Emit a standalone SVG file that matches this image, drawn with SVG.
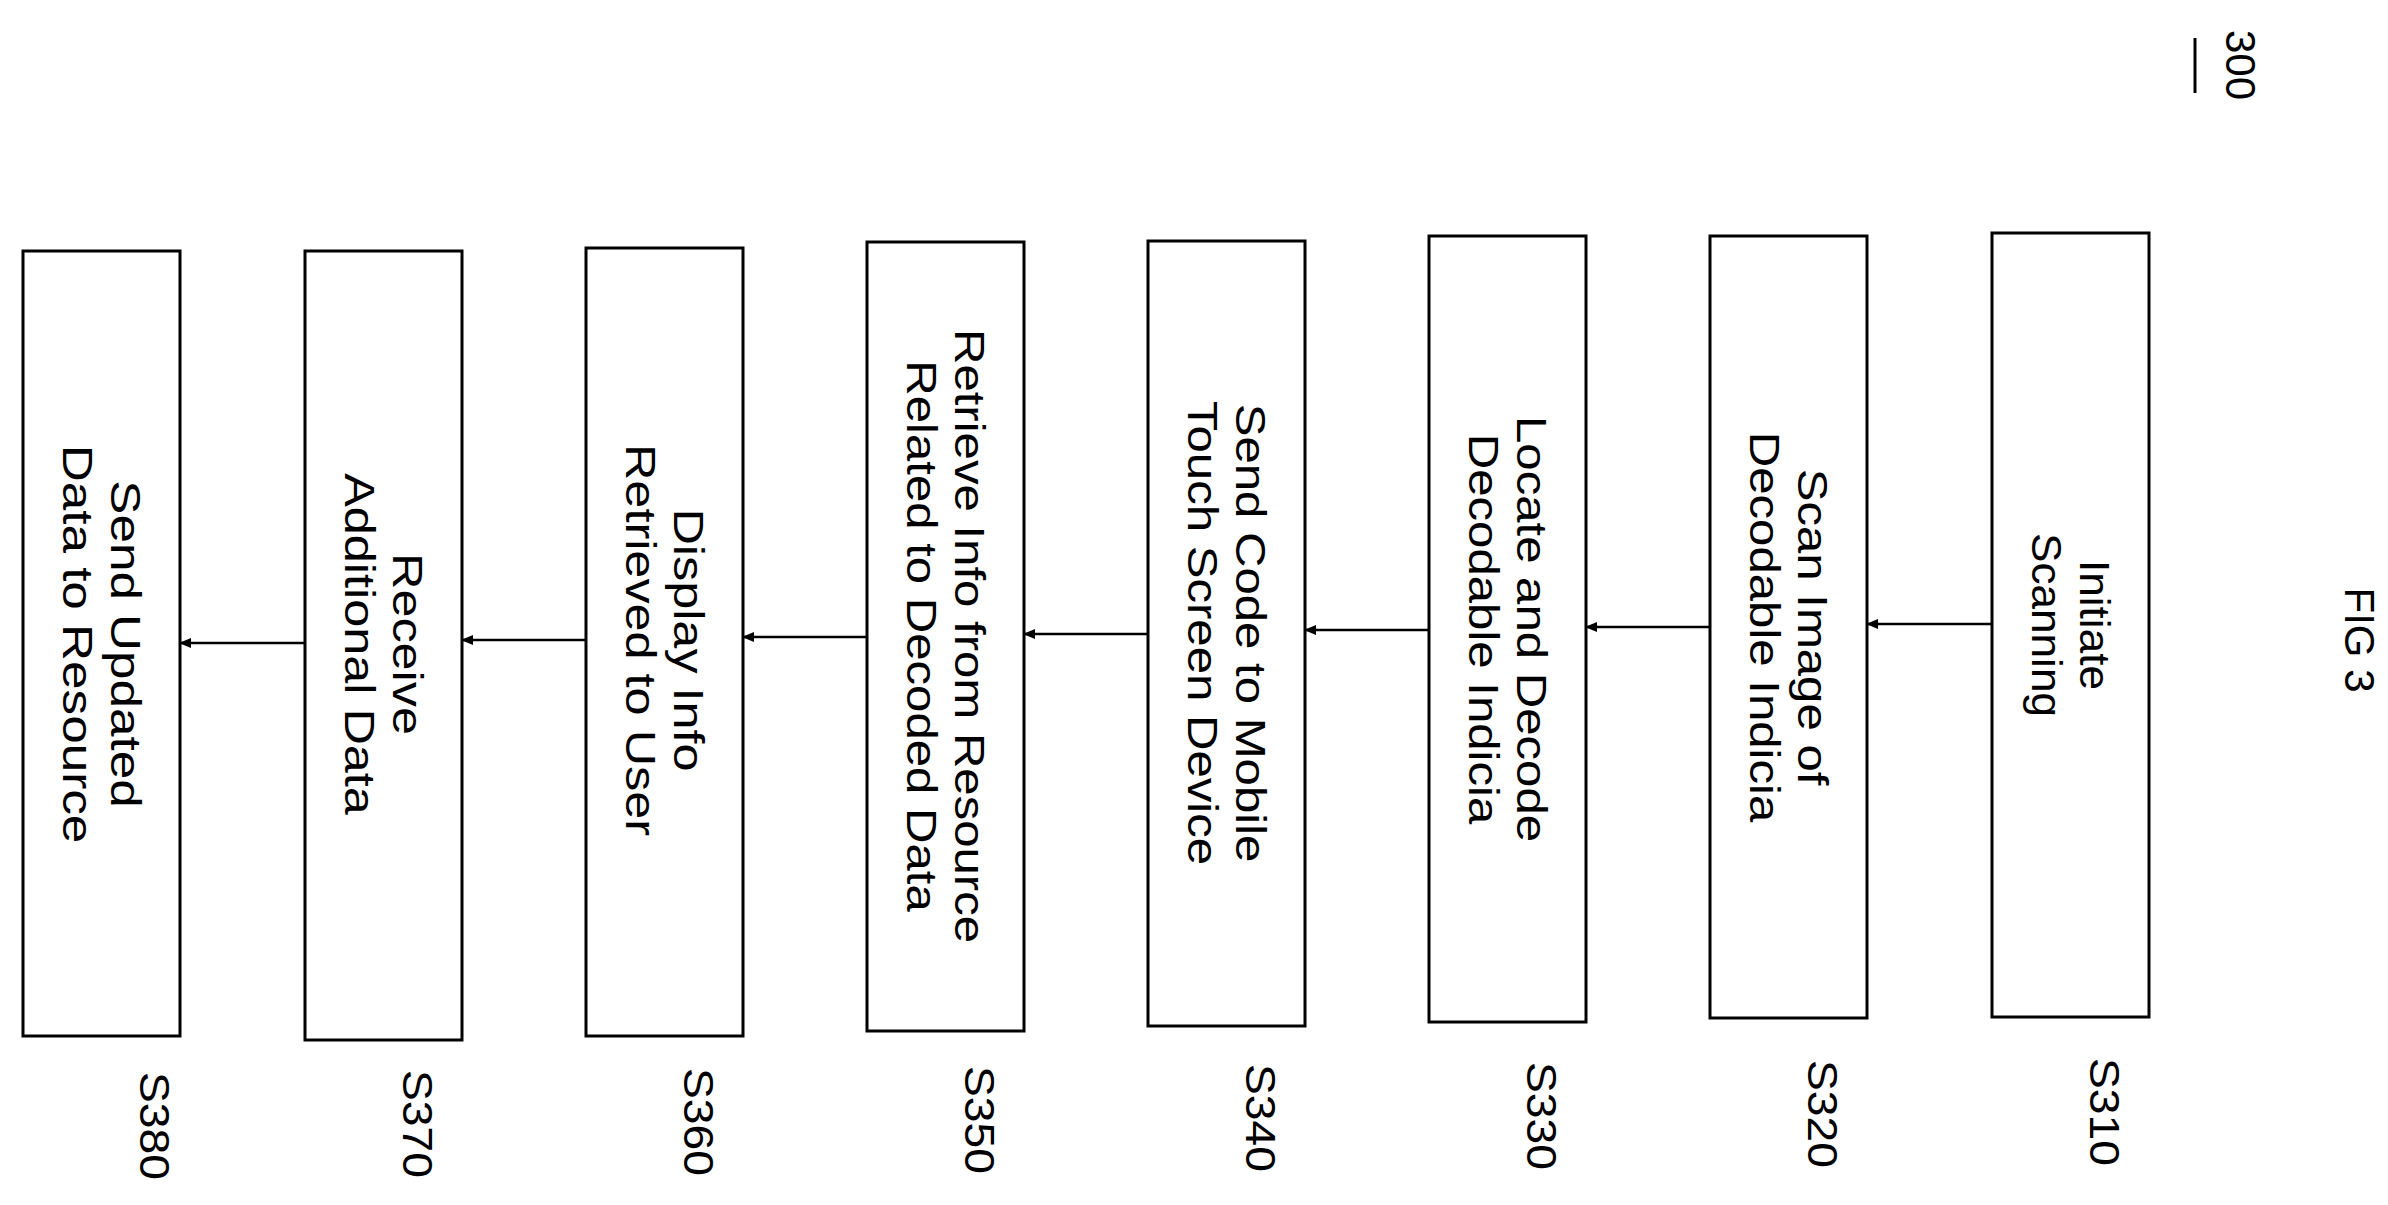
<svg xmlns="http://www.w3.org/2000/svg" width="2388" height="1205" viewBox="0 0 2388 1205">
<style>
.box{fill:#fff;stroke:#000;stroke-width:3}
.t{font-family:"Liberation Sans",Arial,sans-serif;font-size:42px;fill:#000;text-anchor:middle}
.c{stroke:#000;stroke-width:2.5;fill:none;marker-end:url(#ah)}
</style>
<defs><marker id="ah" markerWidth="12" markerHeight="10" refX="11" refY="5" orient="auto" markerUnits="userSpaceOnUse"><path d="M0,0L12,5L0,10Z" fill="#000"/></marker></defs>
<rect width="2388" height="1205" fill="#fff"/>
<g id="title">
<text class="t" transform="translate(2345,640) rotate(90)">FIG 3</text>
<text class="t" transform="translate(2226,65) rotate(90)" font-size="36">300</text>
<line x1="2195" y1="38" x2="2195" y2="93" stroke="#000" stroke-width="3"/>
</g>
<g id="S310"><rect class="box" x="1992" y="233" width="157" height="784"/>
<g transform="translate(2070,625) rotate(90) scale(1.05,1)"><text class="t"><tspan x="0" y="-10">Initiate</tspan><tspan x="0" y="38">Scanning</tspan></text></g>
<text class="t" transform="translate(2090,1112) rotate(90) scale(1.1,1)">S310</text></g>
<g id="S320"><rect class="box" x="1710" y="236" width="157" height="782"/>
<g transform="translate(1788,627) rotate(90) scale(1.17,1)"><text class="t"><tspan x="0" y="-10">Scan Image of</tspan><tspan x="0" y="38">Decodable Indicia</tspan></text></g>
<text class="t" transform="translate(1808,1114) rotate(90) scale(1.1,1)">S320</text></g>
<g id="S330"><rect class="box" x="1429" y="236" width="157" height="786"/>
<g transform="translate(1507,629) rotate(90) scale(1.17,1)"><text class="t"><tspan x="0" y="-10">Locate and Decode</tspan><tspan x="0" y="38">Decodable Indicia</tspan></text></g>
<text class="t" transform="translate(1527,1116) rotate(90) scale(1.1,1)">S330</text></g>
<g id="S340"><rect class="box" x="1148" y="241" width="157" height="785"/>
<g transform="translate(1226,633) rotate(90) scale(1.17,1)"><text class="t"><tspan x="0" y="-10">Send Code to Mobile</tspan><tspan x="0" y="38">Touch Screen Device</tspan></text></g>
<text class="t" transform="translate(1246,1118) rotate(90) scale(1.1,1)">S340</text></g>
<g id="S350"><rect class="box" x="867" y="242" width="157" height="789"/>
<g transform="translate(945,636) rotate(90) scale(1.17,1)"><text class="t"><tspan x="0" y="-10">Retrieve Info from Resource</tspan><tspan x="0" y="38">Related to Decoded Data</tspan></text></g>
<text class="t" transform="translate(965,1120) rotate(90) scale(1.1,1)">S350</text></g>
<g id="S360"><rect class="box" x="586" y="248" width="157" height="788"/>
<g transform="translate(664,640) rotate(90) scale(1.2,1)"><text class="t"><tspan x="0" y="-10">Display Info</tspan><tspan x="0" y="38">Retrieved to User</tspan></text></g>
<text class="t" transform="translate(684,1122) rotate(90) scale(1.1,1)">S360</text></g>
<g id="S370"><rect class="box" x="305" y="251" width="157" height="789"/>
<g transform="translate(383,644) rotate(90) scale(1.2,1)"><text class="t"><tspan x="0" y="-10">Receive</tspan><tspan x="0" y="38">Additional Data</tspan></text></g>
<text class="t" transform="translate(403,1124) rotate(90) scale(1.1,1)">S370</text></g>
<g id="S380"><rect class="box" x="23" y="251" width="157" height="785"/>
<g transform="translate(101,644) rotate(90) scale(1.22,1)"><text class="t"><tspan x="0" y="-10">Send Updated</tspan><tspan x="0" y="38">Data to Resource</tspan></text></g>
<text class="t" transform="translate(140,1126) rotate(90) scale(1.1,1)">S380</text></g>
<g id="connectors">
<line class="c" x1="1992" y1="624" x2="1867" y2="624"/>
<line class="c" x1="1710" y1="627" x2="1586" y2="627"/>
<line class="c" x1="1429" y1="630" x2="1305" y2="630"/>
<line class="c" x1="1148" y1="634" x2="1024" y2="634"/>
<line class="c" x1="867" y1="637" x2="743" y2="637"/>
<line class="c" x1="586" y1="640" x2="462" y2="640"/>
<line class="c" x1="305" y1="643" x2="180" y2="643"/>
</g>
</svg>
